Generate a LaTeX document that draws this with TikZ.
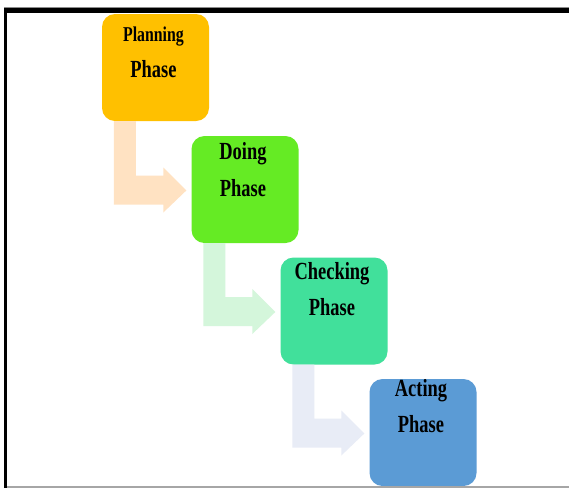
\documentclass[tikz,border=0pt]{standalone}
\usepackage{fontspec}
\usetikzlibrary{calc}
\newfontfamily\phasefont[FakeStretch=0.75]{Liberation Serif}

\definecolor{planC}{HTML}{FFC000}
\definecolor{doC}{HTML}{65EB24}
\definecolor{checkC}{HTML}{41E09B}
\definecolor{actC}{HTML}{5B9BD5}
\definecolor{planA}{HTML}{FFE2C2}
\definecolor{doA}{HTML}{D4F6DB}
\definecolor{checkA}{HTML}{E8ECF6}

\tikzset{
  phasebox/.style={draw=none, rounded corners=13pt, minimum width=107pt,
    minimum height=107pt, inner sep=0pt},
  phaselbl/.style={anchor=base, inner sep=0pt, text=black,
    font=\phasefont\bfseries\fontsize{24.6pt}{26pt}\selectfont},
  smalllbl/.style={phaselbl, font=\phasefont\bfseries\fontsize{21.1pt}{23pt}\selectfont}
}

% bent block arrow from the bottom of one phase box to the left side of the next
\newcommand\bentflow[3]{%
  \coordinate (#1-s1) at ($(#1.south west)+(12,0)$);
  \coordinate (#1-s2) at ($(#1.south west)+(34,0)$);
  \coordinate (#1-t) at ($(#2.west)+(-5,1)$);
  \coordinate (#1-b1) at ($(#1-t)+(-23,-15)$);
  \coordinate (#1-b2) at ($(#1-t)+(-23,14)$);
  \fill[#3] (#1-s1) -- (#1-s2) -- (#1-s2 |- #1-b1) -- (#1-b1)
    -- ($(#1-t)+(-23,-23)$) -- (#1-t) -- ($(#1-t)+(-23,22)$)
    -- (#1-b2) -- (#1-s1 |- #1-b2) -- cycle;
}

\begin{document}
\begin{tikzpicture}[x=1pt, y=-1pt]
  \useasboundingbox (0,0) rectangle (569,488);
  \fill[white] (0,0) rectangle (569,488);

  % phase boxes
  \node[phasebox, fill=planC]  (plan)  at (155.5, 67.5) {};
  \node[phasebox, fill=doC]    (doing) at (245, 189.5) {};
  \node[phasebox, fill=checkC] (check) at (334, 311) {};
  \node[phasebox, fill=actC]   (act)   at (423, 432.5) {};

  % labels
  \node[smalllbl] (plan-a)  at ($(plan.north)+(-2,27.5)$) {Planning};
  \node[phaselbl] (plan-b)  at ($(plan.north)+(-2,63.5)$) {Phase};
  \node[phaselbl] (doing-a) at ($(doing.north)+(-2,23.5)$) {Doing};
  \node[phaselbl] (doing-b) at ($(doing.north)+(-2,60.5)$) {Phase};
  \node[phaselbl] (check-a) at ($(check.north)+(-2,22)$) {Checking};
  \node[phaselbl] (check-b) at ($(check.north)+(-2,58)$) {Phase};
  \node[phaselbl] (act-a)   at ($(act.north)+(-2,17.5)$) {Acting};
  \node[phaselbl] (act-b)   at ($(act.north)+(-2,54)$) {Phase};

  % flow arrows
  \bentflow{plan}{doing}{planA}
  \bentflow{doing}{check}{doA}
  \bentflow{check}{act}{checkA}

  % frame
  \fill[black!45] (4,6.5) rectangle (569,8);
  \fill[black] (4,8) rectangle (569,13);
  \fill[black] (4,8) rectangle (7,488);
  \fill[black!35] (7,486) rectangle (569,488);
\end{tikzpicture}
\end{document}
